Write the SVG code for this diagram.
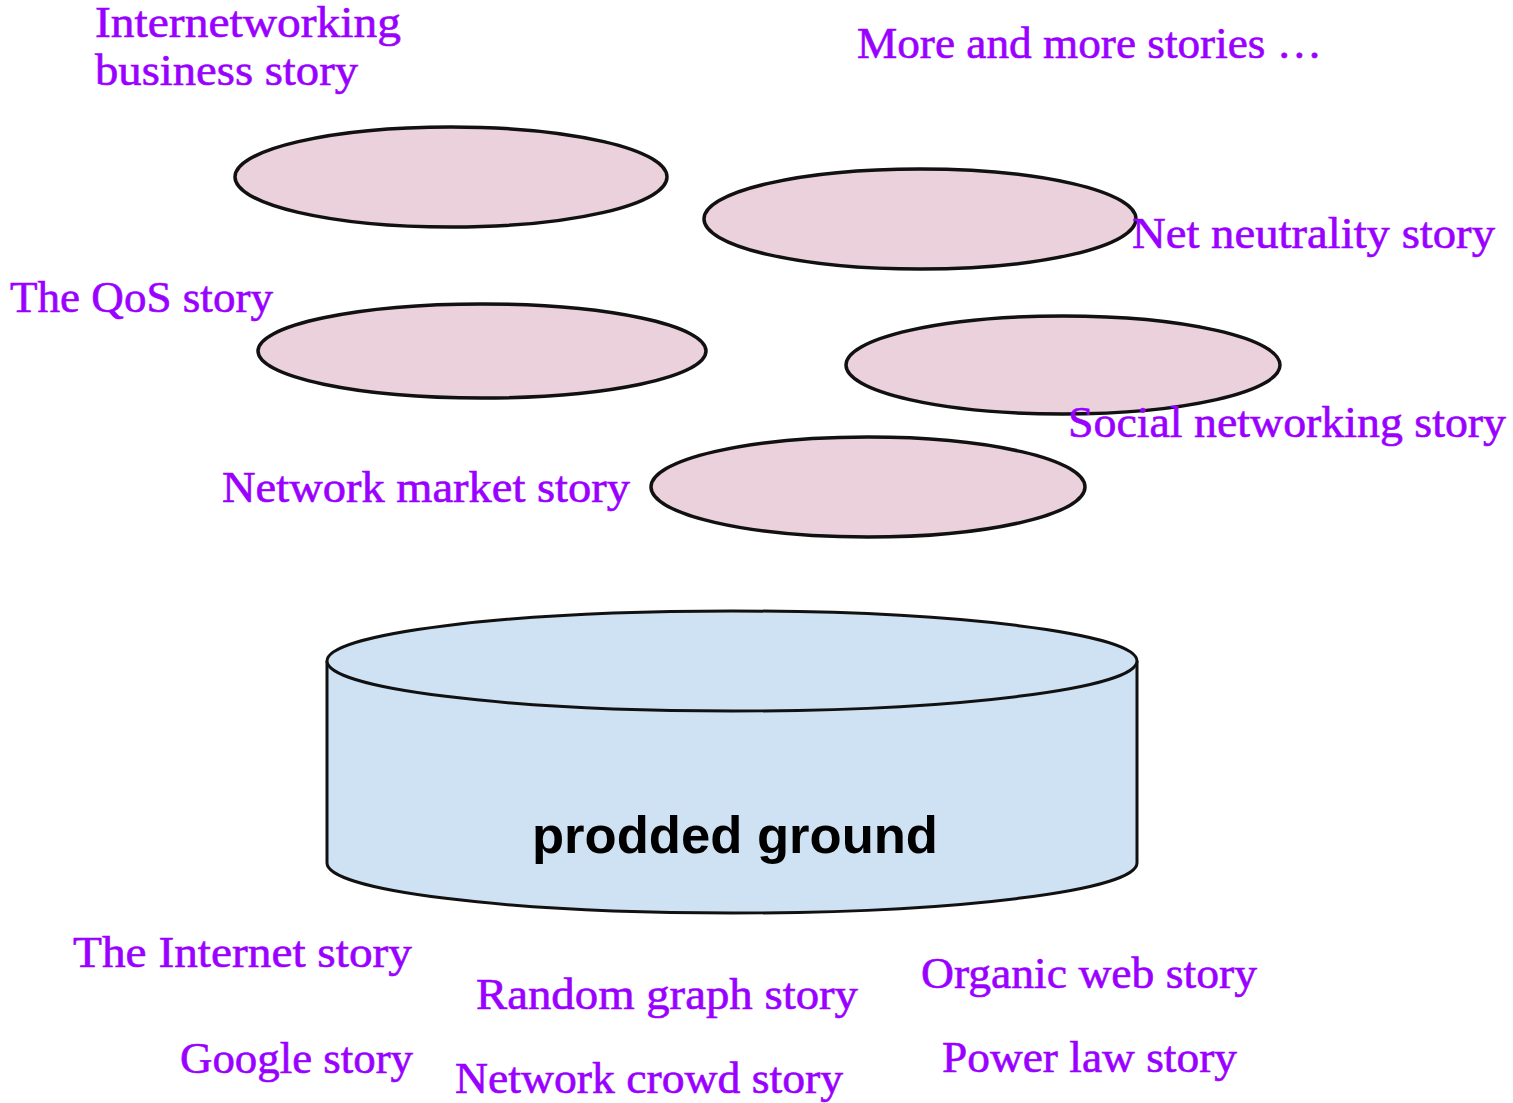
<svg xmlns="http://www.w3.org/2000/svg" width="1513" height="1103" viewBox="0 0 1513 1103">
<style>
.story{fill:#ead1dc;stroke:#111;stroke-width:3.5}
.cyl{fill:#cfe2f3;stroke:#111;stroke-width:3}
.lbl{font-family:"Liberation Serif","Times New Roman",serif;font-size:44px;fill:#9900ff;stroke:#9900ff;stroke-width:0.6}
.gnd{font-family:"Liberation Sans",Arial,sans-serif;font-size:52px;font-weight:bold;fill:#000}
</style>
<rect width="1513" height="1103" fill="#fff"/>
<g id="connectors"/>
<g id="ground">
<path class="cyl" d="M327,661 L327,863 A405,50 0 0 0 1137,863 L1137,661"/>
<ellipse class="cyl" cx="732" cy="661" rx="405" ry="50"/>
<text class="gnd" x="532" y="853" textLength="406" lengthAdjust="spacingAndGlyphs">prodded ground</text>
</g>
<g id="story-internetworking">
<ellipse class="story" cx="451" cy="177" rx="216" ry="50"/>
<text class="lbl" x="95" y="37" textLength="306" lengthAdjust="spacingAndGlyphs">Internetworking</text>
<text class="lbl" x="95" y="85" textLength="263" lengthAdjust="spacingAndGlyphs">business story</text>
</g>
<g id="story-netneutrality">
<ellipse class="story" cx="920" cy="219" rx="216" ry="50"/>
<text class="lbl" x="1132" y="248" textLength="363" lengthAdjust="spacingAndGlyphs">Net neutrality story</text>
</g>
<g id="story-qos">
<ellipse class="story" cx="482" cy="351" rx="224" ry="47"/>
<text class="lbl" x="10" y="312" textLength="263" lengthAdjust="spacingAndGlyphs">The QoS story</text>
</g>
<g id="story-social">
<ellipse class="story" cx="1063" cy="365" rx="217" ry="49"/>
<text class="lbl" x="1068" y="437" textLength="438" lengthAdjust="spacingAndGlyphs">Social networking story</text>
</g>
<g id="story-market">
<ellipse class="story" cx="868" cy="487" rx="217" ry="50"/>
<text class="lbl" x="222" y="502" textLength="408" lengthAdjust="spacingAndGlyphs">Network market story</text>
</g>
<g id="more">
<text class="lbl" x="857" y="58" textLength="465" lengthAdjust="spacingAndGlyphs">More and more stories …</text>
</g>
<g id="ground-stories">
<text class="lbl" x="73" y="967" textLength="339" lengthAdjust="spacingAndGlyphs">The Internet story</text>
<text class="lbl" x="476" y="1009" textLength="382" lengthAdjust="spacingAndGlyphs">Random graph story</text>
<text class="lbl" x="180" y="1073" textLength="233" lengthAdjust="spacingAndGlyphs">Google story</text>
<text class="lbl" x="455" y="1093" textLength="388" lengthAdjust="spacingAndGlyphs">Network crowd story</text>
<text class="lbl" x="921" y="988" textLength="336" lengthAdjust="spacingAndGlyphs">Organic web story</text>
<text class="lbl" x="942" y="1072" textLength="295" lengthAdjust="spacingAndGlyphs">Power law story</text>
</g>
</svg>
